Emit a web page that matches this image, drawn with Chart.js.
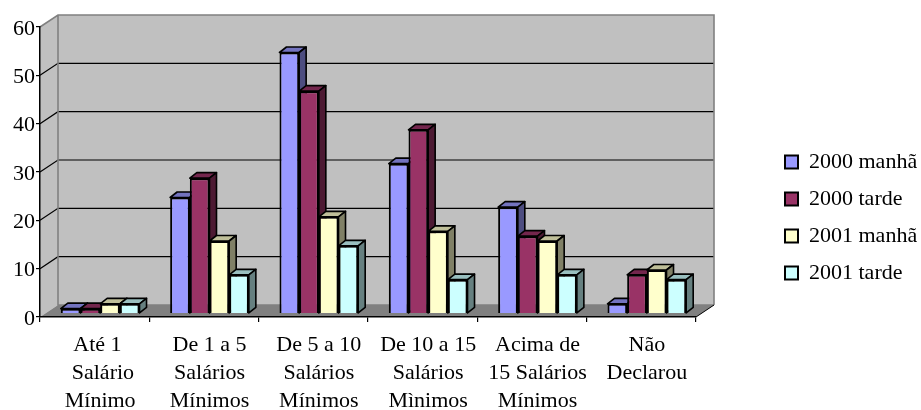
<!DOCTYPE html>
<html lang="pt">
<head>
    <meta charset="UTF-8">
    <title>Salários</title>
    <script src="https://cdn.jsdelivr.net/npm/chart.js@4/dist/chart.umd.min.js"></script>
    <style>
        * { margin: 0; padding: 0; }
        body { background: #fff; overflow: hidden; }
        canvas { display: block; }
    </style>
</head>
<body>
    <canvas id="graph" width="921" height="410"></canvas>
    <script>
        const categories = [
            ['Até 1 ', ' Salário', 'Mínimo'],
            ['De 1 a 5', 'Salários', 'Mínimos'],
            ['De 5 a 10', 'Salários', 'Mínimos'],
            ['De 10 a 15', 'Salários', 'Mìnimos'],
            ['Acima de', '15 Salários', 'Mínimos'],
            ['Não', 'Declarou']
        ];
        const seriesNames = ['2000 manhã', '2000 tarde', '2001 manhã', '2001 tarde'];
        const manha2000 = [1, 24, 54, 31, 22, 2];
        const tarde2000 = [1, 28, 46, 38, 16, 8];
        const manha2001 = [2, 15, 20, 17, 15, 9];
        const tarde2001 = [2, 8, 14, 7, 8, 7];
        const yTicks = [0, 10, 20, 30, 40, 50, 60];

        const colors = ['#9999FF', '#993366', '#FFFFCC', '#CCFFFF'];
        const topColors = ['#7373BF', '#73264D', '#BFBF99', '#99BFBF'];
        const sideColors = ['#4D4D80', '#4D1A33', '#808066', '#668080'];

        const font = 'Liberation Serif';

        // wall offset and the offset/depth of the bars standing on the floor
        const wallX = 18, wallY = 12;
        const barX = 5.5, barY = 3.5;
        const depthX = 7, depthY = 5.5;

        function poly(ctx, pts, fill, stroke, lw) {
            ctx.beginPath();
            pts.forEach((p, i) => i ? ctx.lineTo(p[0], p[1]) : ctx.moveTo(p[0], p[1]));
            ctx.closePath();
            if (fill) { ctx.fillStyle = fill; ctx.fill(); }
            if (stroke) { ctx.strokeStyle = stroke; ctx.lineWidth = lw; ctx.lineJoin = 'round'; ctx.stroke(); }
        }

        const box3d = {
            id: 'box3d',
            afterLayout(chart) {
                // legend sits far from the plot, so it is placed by hand
                const lg = chart.legend;
                const h = lg.height, w = lg.width;
                lg.left = 770; lg.top = 136; lg.right = lg.left + w; lg.bottom = lg.top + h;
                lg.adjustHitBoxes();
            },
            beforeDraw(chart) {
                const { ctx, chartArea: a, scales: { y } } = chart;
                const b = a.bottom, t = a.top, l = a.left, r = a.right;
                ctx.save();
                poly(ctx, [[l, t], [l + wallX, t - wallY], [l + wallX, b - wallY], [l, b]], '#C0C0C0');
                poly(ctx, [[l + wallX, t - wallY], [r + wallX, t - wallY], [r + wallX, b - wallY], [l + wallX, b - wallY]], '#C0C0C0');
                poly(ctx, [[l, b], [l + wallX, b - wallY], [r + wallX, b - wallY], [r, b]], '#808080');

                ctx.strokeStyle = '#000';
                ctx.lineWidth = 1.2;
                yTicks.slice(1, -1).forEach(v => {
                    const py = y.getPixelForValue(v);
                    ctx.beginPath();
                    ctx.moveTo(l, py);
                    ctx.lineTo(l + wallX, py - wallY);
                    ctx.lineTo(r + wallX, py - wallY);
                    ctx.stroke();
                });

                ctx.strokeStyle = '#808080';
                ctx.lineWidth = 1.6;
                ctx.beginPath();
                ctx.moveTo(l, t);
                ctx.lineTo(l + wallX, t - wallY);
                ctx.lineTo(r + wallX, t - wallY);
                ctx.lineTo(r + wallX, b - wallY);
                ctx.moveTo(l + wallX, t - wallY);
                ctx.lineTo(l + wallX, b - wallY);
                ctx.lineTo(r + wallX, b - wallY);
                ctx.stroke();

                ctx.strokeStyle = '#000';
                ctx.lineWidth = 1;
                ctx.beginPath();
                ctx.moveTo(r, b);
                ctx.lineTo(r + wallX, b - wallY);
                ctx.stroke();
                ctx.restore();
            },
            beforeDatasetsDraw(chart) {
                const ctx = chart.ctx;
                ctx.save();
                ctx.translate(barX, -barY);
                // tops and sides, left to right, the fronts go on after them
                categories.forEach((c, i) => {
                    seriesNames.forEach((s, d) => {
                        const bar = chart.getDatasetMeta(d).data[i];
                        const x0 = bar.x - bar.width / 2, x1 = bar.x + bar.width / 2;
                        const yt = bar.y, yb = bar.base;
                        poly(ctx, [[x0, yt], [x0 + depthX, yt - depthY], [x1 + depthX, yt - depthY], [x1, yt]], topColors[d], '#000', 1.6);
                        poly(ctx, [[x1, yt], [x1 + depthX, yt - depthY], [x1 + depthX, yb - depthY], [x1, yb]], sideColors[d], '#000', 1.6);
                    });
                });
            },
            afterDatasetsDraw(chart) {
                chart.ctx.restore();
            }
        };

        const seriesValues = [manha2000, tarde2000, manha2001, tarde2001];

        new Chart(document.getElementById('graph'), {
            type: 'bar',
            data: {
                labels: categories,
                datasets: seriesNames.map((name, d) => ({
                    label: name,
                    data: seriesValues[d],
                    backgroundColor: colors[d],
                    borderColor: '#000',
                    borderWidth: 2,
                    categoryPercentage: 0.72,
                    barPercentage: 1,
                    clip: false
                }))
            },
            options: {
                responsive: false,
                animation: false,
                events: [],
                layout: { padding: { top: 27, right: 225, left: 0, bottom: 0 } },
                plugins: {
                    tooltip: { enabled: false },
                    legend: {
                        position: 'chartArea',
                        align: 'start',
                        labels: {
                            boxWidth: 13,
                            boxHeight: 13,
                            padding: 15,
                            color: '#000',
                            font: { family: font, size: 22 }
                        }
                    }
                },
                scales: {
                    x: {
                        afterFit(scale) { scale.height = 93; },
                        border: { color: '#000', width: 1.5 },
                        grid: { drawOnChartArea: false, color: '#000', tickColor: '#000', tickLength: 5, lineWidth: 1.2 },
                        ticks: {
                            autoSkip: false,
                            maxRotation: 0,
                            color: '#000',
                            padding: 9,
                            labelOffset: 5.5,
                            font: { family: font, size: 22, lineHeight: 1.28 }
                        }
                    },
                    y: {
                        min: 0,
                        max: 60,
                        afterFit(scale) { scale.width = 40; },
                        afterBuildTicks(scale) { scale.ticks = yTicks.map(v => ({ value: v })); },
                        border: { color: '#000', width: 1.5 },
                        grid: { drawOnChartArea: false, color: '#000', tickColor: '#000', tickLength: 4, lineWidth: 1.2 },
                        ticks: {
                            color: '#000',
                            padding: 1,
                            labelOffset: 2,
                            font: { family: font, size: 22 }
                        }
                    }
                }
            },
            plugins: [box3d]
        });
    </script>
</body>
</html>
